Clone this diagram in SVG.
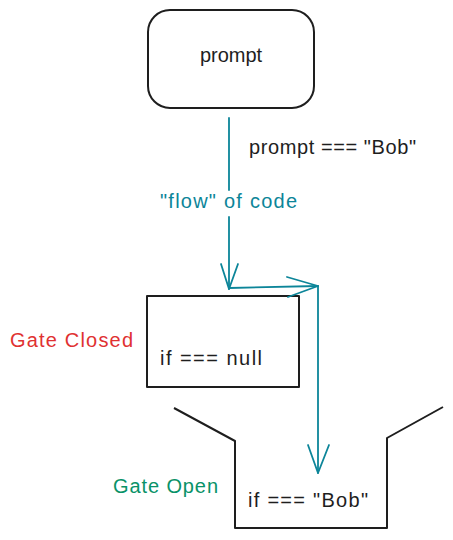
<svg xmlns="http://www.w3.org/2000/svg" width="453" height="540" viewBox="0 0 453 540">
<style>
.t{font-family:"Liberation Sans",Arial,sans-serif;font-size:20px;fill:#1e1e1e}
.teal{fill:#0c8599}
.red{fill:#e03131}
.green{fill:#099268}
.shape{fill:none;stroke:#1e1e1e;stroke-width:2;stroke-linejoin:round}
.conn{fill:none;stroke:#0c8599;stroke-width:1.8;stroke-linecap:round;stroke-linejoin:round}
</style>
<rect width="453" height="540" fill="#ffffff"/>
<g id="prompt">
<rect class="shape" x="148" y="10" width="166" height="98" rx="22"/>
<text class="t" x="231" y="62" text-anchor="middle">prompt</text>
</g>
<g id="gate-closed">
<rect class="shape" x="147" y="296" width="152" height="91" stroke="#333"/>
<text class="t" x="160" y="365" textLength="102">if === null</text>
</g>
<g id="gate-open">
<polyline class="shape" points="174,408 235,441 235,528 387,528 387,438 443,407"/>
<text class="t" x="248" y="507" textLength="120">if === "Bob"</text>
</g>
<g id="labels">
<text class="t" x="249" y="154" textLength="167">prompt === "Bob"</text>
<text class="t teal" x="160" y="208" textLength="137">"flow" of code</text>
<text class="t red" x="10" y="347" textLength="123">Gate Closed</text>
<text class="t green" x="113" y="493" textLength="105">Gate Open</text>
</g>
<g id="connectors">
<path class="conn" d="M229,118 L229,190 M229,217 L229,289"/>
<path class="conn" d="M221,264 L229,289 L238,264"/>
<path class="conn" d="M229,288 L318,286"/>
<path class="conn" d="M287,277 L318,286 L288,297"/>
<path class="conn" d="M318,286 L318,473"/>
<path class="conn" d="M308,445 L318,473 L329,445"/>
</g>
</svg>
